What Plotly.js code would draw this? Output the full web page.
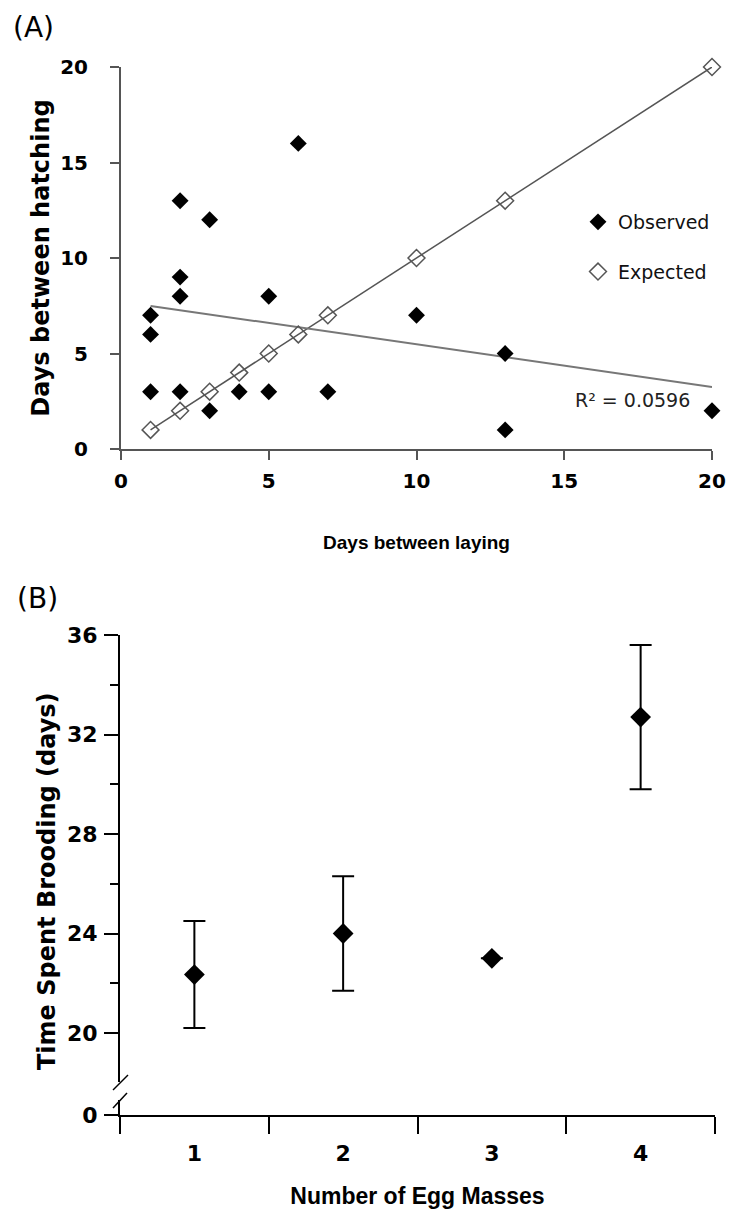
<!DOCTYPE html>
<html><head><meta charset="utf-8">
<script src="https://cdn.plot.ly/plotly-3.0.1.min.js"></script>
<style>html,body{margin:0;padding:0;background:#fff}#chart{width:734px;height:1213px}</style>
</head><body><div id="chart"></div>
<script>
// ---- Panel A data ----
const obsX = [1,1,1,2,2,2,2,3,3,4,5,5,6,7,10,13,13,20];
const obsY = [7,6,3,13,9,8,3,12,2,3,8,3,16,3,7,5,1,2];
const expX = [1,2,3,4,5,6,7,10,13,20];
const expY = [1,2,3,4,5,6,7,10,13,20];
const trendX = [1,20];
const trendY = [7.49,3.25];
const r2Label = 'R² = 0.0596';
const tickA = [0,5,10,15,20];
// ---- Panel B data ----
const eggMasses = ['1','2','3','4'];
const broodMean = [22.35,24.0,23.0,32.7];
const broodErr = [2.15,2.3,null,2.9];
const tickB = [20,24,28,32,36];
const minorB = [22,26,30,34];
const tickB0 = [0];

const grayA = '#555';
const tickFontA = {family:'DejaVu Sans', size:20, weight:'bold', color:'#000'};
const tickFontB = {family:'DejaVu Sans', size:22, weight:'bold', color:'#000'};

const traces = [
  {x:expX, y:expY, xaxis:'x', yaxis:'y', mode:'lines', line:{color:grayA, width:1.5}, showlegend:false, hoverinfo:'skip', cliponaxis:false},
  {x:trendX, y:trendY, xaxis:'x', yaxis:'y', mode:'lines', line:{color:'#777', width:2}, showlegend:false, hoverinfo:'skip', cliponaxis:false},
  {x:obsX, y:obsY, xaxis:'x', yaxis:'y', mode:'markers', name:'Observed', legendgroup:'o', cliponaxis:false,
   marker:{symbol:'diamond', size:13, color:'#000'}},
  {x:expX, y:expY, xaxis:'x', yaxis:'y', mode:'markers', name:'Expected', legendgroup:'e', cliponaxis:false,
   marker:{symbol:'diamond-open', size:13, color:grayA, line:{width:1.5, color:grayA}}},
  {x:eggMasses, y:broodMean, xaxis:'x2', yaxis:'y2', mode:'markers', showlegend:false, cliponaxis:false,
   marker:{symbol:'diamond', size:16, color:'#000'},
   error_y:{type:'data', array:broodErr, symmetric:true, color:'#000', thickness:2, width:11}},
  // empty trace so that the lower (broken-axis) segment forms its own subplot
  {x:[], y:[], xaxis:'x2', yaxis:'y3', mode:'markers', showlegend:false, hoverinfo:'skip'}
];

const plotL = 120, plotR = 715, plotT = 67, plotB = 1115;
const W = plotR - plotL, H = plotB - plotT;
const px = v => (v - plotL) / W;
const py = v => (plotB - v) / H;

const layout = {
  width:734, height:1213,
  margin:{l:plotL, r:734-plotR, t:plotT, b:1213-plotB},
  paper_bgcolor:'#fff', plot_bgcolor:'rgba(0,0,0,0)',
  showlegend:true,
  legend:{x:px(578), y:py(203), xanchor:'left', yanchor:'top', bgcolor:'rgba(0,0,0,0)',
          font:{family:'DejaVu Sans', size:19, color:'#111'}, tracegroupgap:22, traceorder:'grouped'},
  xaxis:{domain:[px(121), px(712)], anchor:'y', range:[0,20], tickvals:tickA,
         ticks:'outside', ticklen:9, tickwidth:2, tickcolor:grayA, showline:true, linecolor:grayA, linewidth:2,
         showgrid:false, zeroline:false, tickfont:tickFontA, ticklabelstandoff:4,
         title:{text:'Days between laying', font:{family:'Liberation Sans', size:19, weight:'bold', color:'#000'}, standoff:44}},
  yaxis:{domain:[py(449), py(67)], anchor:'x', range:[0,20], tickvals:tickA,
         ticks:'outside', ticklen:9, tickwidth:2, tickcolor:grayA, showline:true, linecolor:grayA, linewidth:2,
         showgrid:false, zeroline:false, tickfont:tickFontA, ticklabelstandoff:18,
         title:{text:'Days between hatching', font:{family:'DejaVu Sans', size:24, weight:'bold', color:'#000'}, standoff:4}},
  xaxis2:{domain:[0,1], anchor:'y3', type:'category', range:[-0.5,3.5], tickson:'boundaries',
          ticks:'outside', ticklen:17, tickwidth:2, tickcolor:'#000', showline:true, linecolor:'#000', linewidth:2,
          showgrid:false, zeroline:false, tickfont:tickFontB, ticklabelstandoff:18,
          title:{text:'Number of Egg Masses', font:{family:'Liberation Sans', size:23, weight:'bold', color:'#000'}, standoff:22}},
  yaxis2:{domain:[py(1082), py(635)], anchor:'x2', range:[18.03,36], tickvals:tickB,
          ticks:'outside', ticklen:14, tickwidth:2, tickcolor:'#000', showline:true, linecolor:'#000', linewidth:2,
          minor:{tickvals:minorB, ticks:'outside', ticklen:8, tickwidth:2, tickcolor:'#000'},
          showgrid:false, zeroline:false, tickfont:tickFontB, ticklabelstandoff:2},
  yaxis3:{domain:[0, py(1100)], anchor:'x2', range:[0,1], tickvals:tickB0,
          ticks:'outside', ticklen:14, tickwidth:2, tickcolor:'#000', showline:true, linecolor:'#000', linewidth:2,
          showgrid:false, zeroline:false, tickfont:tickFontB, ticklabelstandoff:2},
  annotations:[
    {xref:'x', yref:'y', x:17.3, y:2.57, text:r2Label, showarrow:false,
     font:{family:'DejaVu Sans', size:19, color:'#222'}},
    {xref:'paper', yref:'paper', x:px(11), y:py(28), xanchor:'left', yanchor:'middle', text:'(A)', showarrow:false,
     font:{family:'DejaVu Sans', size:28, color:'#000'}},
    {xref:'paper', yref:'paper', x:px(15), y:py(598), xanchor:'left', yanchor:'middle', text:'(B)', showarrow:false,
     font:{family:'DejaVu Sans', size:28, color:'#000'}},
    // y-axis title of panel B (spans the broken axis, so centred on the whole axis)
    {xref:'paper', yref:'paper', x:px(47), y:py(881), xanchor:'center', yanchor:'middle', textangle:-90,
     text:'Time Spent Brooding (days)', showarrow:false,
     font:{family:'DejaVu Sans', size:24, weight:'bold', color:'#000'}}
  ],
  shapes:[
    {type:'line', xref:'paper', yref:'paper', x0:px(113), y0:py(1090), x1:px(128), y1:py(1075), line:{color:'#000', width:1.5}},
    {type:'line', xref:'paper', yref:'paper', x0:px(113), y0:py(1108), x1:px(127), y1:py(1093), line:{color:'#000', width:1.5}}
  ]
};

Plotly.newPlot('chart', traces, layout, {displayModeBar:false, staticPlot:true});
</script>
</body></html>
